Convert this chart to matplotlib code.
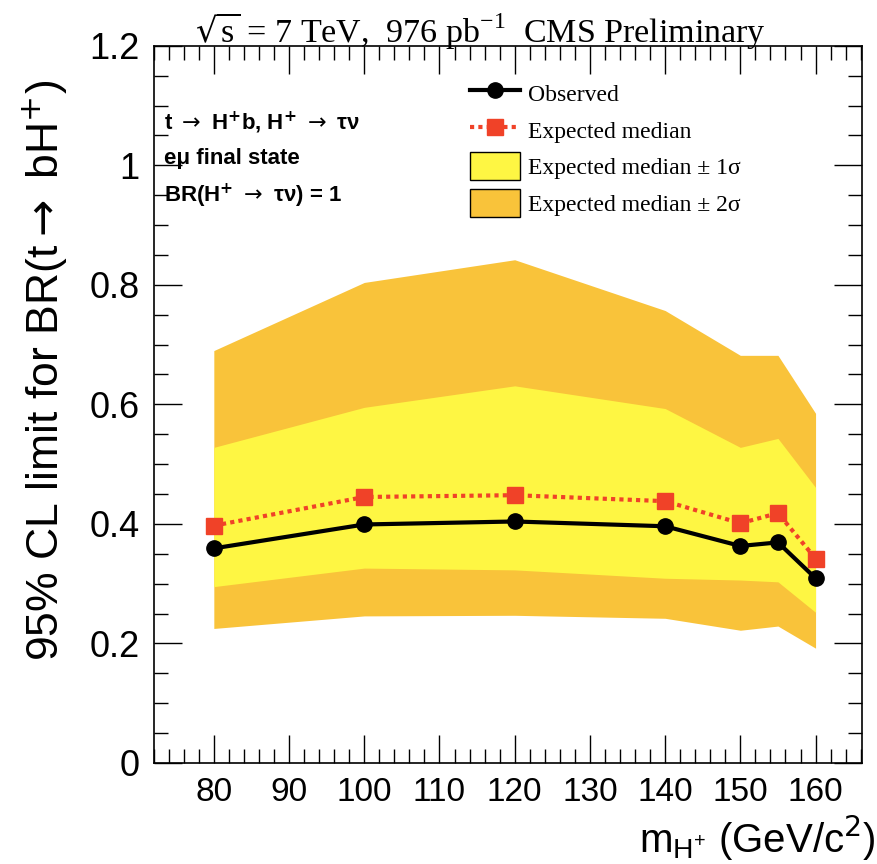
import matplotlib
matplotlib.use("Agg")
import matplotlib.pyplot as plt
from matplotlib.patches import Patch
from matplotlib.lines import Line2D
from matplotlib.ticker import MultipleLocator

mass = [80, 100, 120, 140, 150, 155, 160]
observed = [0.359, 0.399, 0.404, 0.396, 0.363, 0.369, 0.309]
expected = [0.397, 0.445, 0.448, 0.438, 0.401, 0.418, 0.342]
exp_p1 = [0.528, 0.595, 0.631, 0.593, 0.528, 0.543, 0.461]
exp_m1 = [0.295, 0.326, 0.323, 0.309, 0.306, 0.303, 0.252]
exp_p2 = [0.690, 0.804, 0.842, 0.757, 0.682, 0.682, 0.585]
exp_m2 = [0.225, 0.246, 0.247, 0.242, 0.222, 0.229, 0.192]

YELLOW = '#fef643'
ORANGE = '#f9c33a'
RED = '#f04228'
SANS = ['Liberation Sans', 'DejaVu Sans']
SERIF = ['Liberation Serif', 'DejaVu Serif']

fig = plt.figure(figsize=(8.78, 8.64), dpi=100)
ax = fig.add_axes([0.175, 0.117, 0.807, 0.830])

ax.fill_between(mass, exp_m2, exp_p2, color=ORANGE, lw=0)
ax.fill_between(mass, exp_m1, exp_p1, color=YELLOW, lw=0)
ax.plot(mass, expected, ls=(0, (1, 1)), color=RED, lw=3, marker='s', ms=12, mec=RED, mfc=RED)
ax.plot(mass, observed, ls='-', color='black', lw=3, marker='o', ms=11)

ax.set_xlim(72, 166.2)
ax.set_ylim(0, 1.2)
ax.xaxis.set_minor_locator(MultipleLocator(2))
ax.yaxis.set_minor_locator(MultipleLocator(0.05))
ax.set_xticks([80, 90, 100, 110, 120, 130, 140, 150, 160])
ax.set_yticks([0, 0.2, 0.4, 0.6, 0.8, 1.0, 1.2])
ax.set_yticklabels(['0', '0.2', '0.4', '0.6', '0.8', '1', '1.2'])
ax.tick_params(which='both', direction='in', top=True, right=True, width=1)
ax.tick_params(which='major', length=20)
ax.tick_params(which='minor', length=10)
ax.tick_params(axis='x', which='major', labelsize=24, pad=10)
ax.tick_params(axis='y', which='major', labelsize=26, pad=10)
for lab in ax.get_xticklabels() + ax.get_yticklabels():
    lab.set_family(SANS)
for s in ax.spines.values():
    s.set_linewidth(1.2)

fig.text(45 / 878, 1 - 80 / 864, r'95% CL limit for BR(t$\rightarrow$ bH$^{+}$)', fontsize=32,
         family=SANS, rotation=90, ha='center', va='top')
fig.text(0.997, 0.030, r'm$_{\mathregular{H^{+}}}$ (GeV/c$^{2}$)', fontsize=29,
         family=SANS, ha='right', va='center')

fig.text(0.547, 0.963, r'$\sqrt{\mathregular{s}}$ = 7 TeV,  976 pb$^{\mathregular{-1}}$  CMS Preliminary',
         fontsize=24.5, family=SERIF, ha='center', va='center')

tprops = dict(transform=ax.transAxes, fontsize=16, fontweight='bold', family=SANS, va='center')
ax.text(0.015, 0.893, r't $\rightarrow$ H$^{\mathbf{+}}$b, H$^{\mathbf{+}}$ $\rightarrow$ τν', **tprops)
ax.text(0.015, 0.843, 'eμ final state', **tprops)
ax.text(0.015, 0.791, r'BR(H$^{\mathbf{+}}$ $\rightarrow$ τν) = 1', **tprops)

handles = [
    Line2D([], [], color='black', lw=3, marker='o', ms=11),
    Line2D([], [], color=RED, lw=3, ls=(0, (1, 1)), marker='s', ms=12),
    Patch(facecolor=YELLOW, edgecolor='black', lw=1),
    Patch(facecolor=ORANGE, edgecolor='black', lw=1),
]
labels = ['Observed', 'Expected median', 'Expected median ± 1σ', 'Expected median ± 2σ']
leg = ax.legend(handles, labels, loc='upper left', bbox_to_anchor=(0.417, 0.983),
                frameon=False, prop={'family': SERIF, 'size': 17},
                handlelength=2.1, handleheight=1.45, labelspacing=0.36, handletextpad=0.35)

fig.savefig('out.png', dpi=100)
